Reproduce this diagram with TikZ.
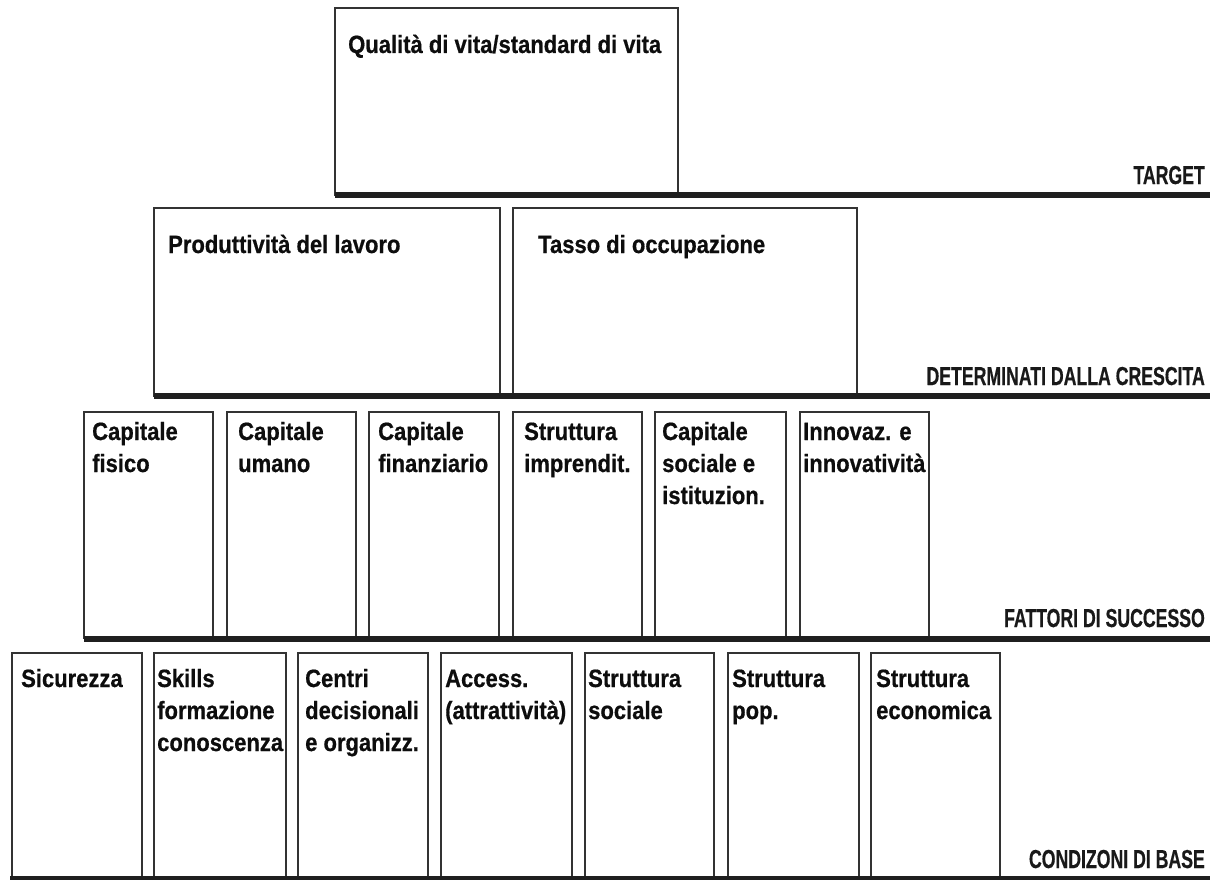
\documentclass[tikz,border=0pt]{standalone}
\usepackage{fontspec}
\setmainfont{Liberation Sans}
\newfontfamily\boxfont[FakeStretch=0.88,FakeBold=0.6]{Liberation Sans Bold}
\newfontfamily\labfont[FakeStretch=0.68,FakeBold=0.5]{Liberation Sans Bold}
\newcommand{\lines}[1]{\begin{tabular}[t]{@{}l@{}}#1\end{tabular}}
\tikzset{
  cell/.style={draw=black!80, line width=1.8pt, rectangle, inner sep=0pt, outer sep=0pt, anchor=north west, fill=none},
  celltext/.style={anchor=base west, inner sep=0pt, text=black!95, font=\boxfont\fontsize{25}{32}\selectfont},
  levellabel/.style={anchor=base east, inner sep=0pt, text=black!90, font=\labfont\fontsize{26}{30}\selectfont},
  groundline/.style={draw=black!88, line width=6pt}
}
\newcommand{\cellbox}[5]{% name, x1, x2, top, bottom
  \node[cell, minimum width={(#3-#2)*1pt}, minimum height={(#5-#4)*1pt}] (#1) at (#2,#4) {};}
\begin{document}
\begin{tikzpicture}[x=1pt, y=-1pt]
\useasboundingbox (0,0) rectangle (1215,880);
\fill[white] (0,0) rectangle (1215,880);

% ---------- TARGET ----------
\cellbox{qv}{335}{678}{8}{195}
\node[celltext] (qvt) at (348,53) {Qualità di vita/standard di vita};
\coordinate (l1a) at (335,195); \coordinate (l1b) at (1210,195);
\draw[groundline] (l1a) -- (l1b);
\node[levellabel] (lab1) at (1205,184) {TARGET};

% ---------- DETERMINATI ----------
\cellbox{pl}{154}{500}{208}{396}
\cellbox{to}{513}{857}{208}{396}
\node[celltext] (plt) at (168,253) {Produttività del lavoro};
\node[celltext] (tot) at (538,253) {Tasso di occupazione};
\coordinate (l2a) at (154,396); \coordinate (l2b) at (1210,396);
\draw[groundline] (l2a) -- (l2b);
\node[levellabel] (lab2) at (1205,385) {DETERMINATI DALLA CRESCITA};

% ---------- FATTORI ----------
\cellbox{cf}{84}{213}{412}{638}
\cellbox{cu}{227}{356}{412}{638}
\cellbox{cfi}{369}{499}{412}{638}
\cellbox{si}{513}{642}{412}{638}
\cellbox{cs}{655}{786}{412}{638}
\cellbox{in}{800}{929}{412}{638}
\node[celltext] (cft) at (92,440) {\lines{Capitale\\fisico}};
\node[celltext] (cut) at (238,440) {\lines{Capitale\\umano}};
\node[celltext] (cfit) at (378,440) {\lines{Capitale\\finanziario}};
\node[celltext] (sit) at (524,440) {\lines{Struttura\\imprendit.}};
\node[celltext] (cst) at (662,440) {\lines{Capitale\\sociale e\\istituzion.}};
\node[celltext] (int) at (803,440) {\lines{Innovaz. e\\innovatività}};
\coordinate (l3a) at (84,638.5); \coordinate (l3b) at (1210,638.5);
\draw[groundline] (l3a) -- (l3b);
\node[levellabel] (lab3) at (1205,627) {FATTORI DI SUCCESSO};

% ---------- CONDIZIONI ----------
\cellbox{se}{12}{142}{653}{879}
\cellbox{sk}{154}{286}{653}{879}
\cellbox{cd}{298}{428}{653}{879}
\cellbox{ac}{441}{572}{653}{879}
\cellbox{ss}{585}{714}{653}{879}
\cellbox{sp}{728}{859}{653}{879}
\cellbox{se2}{871}{1000}{653}{879}
\node[celltext] (set) at (21,687) {Sicurezza};
\node[celltext] (skt) at (157,687) {\lines{Skills\\formazione\\conoscenza}};
\node[celltext] (cdt) at (305,687) {\lines{Centri\\decisionali\\e organizz.}};
\node[celltext] (act) at (445,687) {\lines{Access.\\(attrattività)}};
\node[celltext] (sst) at (588,687) {\lines{Struttura\\sociale}};
\node[celltext] (spt) at (732,687) {\lines{Struttura\\pop.}};
\node[celltext] (se2t) at (876,687) {\lines{Struttura\\economica}};
\coordinate (l4a) at (10,879); \coordinate (l4b) at (1210,879);
\draw[groundline] (l4a) -- (l4b);
\node[levellabel] (lab4) at (1205,868) {CONDIZONI DI BASE};
\end{tikzpicture}
\end{document}
